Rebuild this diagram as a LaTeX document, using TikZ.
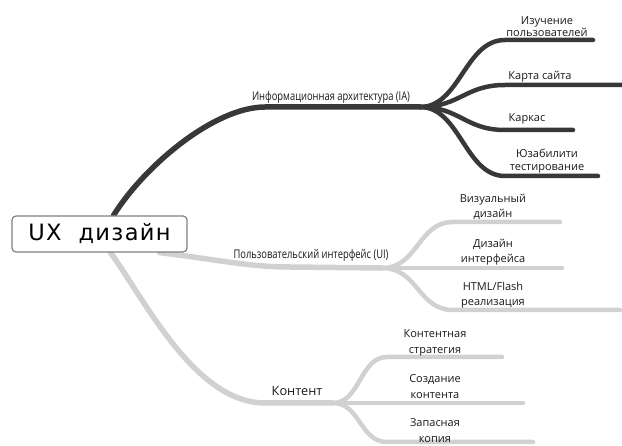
\documentclass[tikz,border=0pt]{standalone}
\usepackage{fontspec}
\setmainfont{Open Sans}
\newfontfamily\narrowfont[FakeStretch=0.78]{Open Sans}
\newfontfamily\rootfont[LetterSpace=6]{DejaVu Sans}
\usetikzlibrary{backgrounds}

\begin{document}
\begin{tikzpicture}[x=1pt,y=-1pt,
    branch/.style={line width=5.5pt,line cap=round},
    twig/.style={line width=4.5pt,line cap=round},
    leaf/.style={align=center,anchor=south,inner sep=1pt,text=black!90,
      font=\fontsize{11}{12.5}\selectfont},
    topic/.style={anchor=base,inner sep=1pt,text=black!90,
      font=\narrowfont\fontsize{12}{14}\selectfont}]
  \colorlet{dark}{black!78}
  \colorlet{light}{black!18}
  \useasboundingbox (0,0) rectangle (622,446);

  \node[draw=black!50,line width=1.2pt,rounded corners=4pt,fill=white,
    minimum width=175pt,minimum height=36pt,
    font=\rootfont\fontsize{22.5}{24}\selectfont] (root) at (99.5,234) {UX\ \ дизайн};

  % main topics
  \node[topic] (ia) at (331,101) {Информационная архитектура (IA)};
  \node[topic] (ui) at (311,259) {Пользовательский интерфейс (UI)};
  \node[topic,font=\fontsize{12.75}{14}\selectfont] (content) at (297,396) {Контент};

  \coordinate (iafork) at (420,107);
  \coordinate (uifork) at (382,268);
  \coordinate (contentfork) at (333,403);

  % leaves
  \node[leaf] (users) at (547,38) {Изучение\\пользователей};
  \node[leaf] (sitemap) at (540,83) {Карта сайта};
  \node[leaf] (frame) at (527,125) {Каркас};
  \node[leaf] (usability) at (547,174) {Юзабилити\\тестирование};
  \node[leaf,font=\fontsize{11}{15}\selectfont] (visual) at (493,221) {Визуальный\\дизайн};
  \node[leaf,font=\fontsize{11}{15}\selectfont] (interface) at (493,266) {Дизайн\\интерфейса};
  \node[leaf,font=\fontsize{11}{15}\selectfont] (html) at (493,309) {HTML/Flash\\реализация};
  \node[leaf,font=\fontsize{11}{16}\selectfont] (strategy) at (435,357) {Контентная\\стратегия};
  \node[leaf,font=\fontsize{11}{16}\selectfont] (creation) at (435,400) {Создание\\контента};
  \node[leaf,font=\fontsize{11}{16}\selectfont] (backup) at (435,444) {Запасная\\копия};

  \begin{scope}[on background layer]
    \draw[branch,dark] ([xshift=14pt]root.north) .. controls (145,165) and (215,107) .. (265,107) -- (iafork);
    \draw[branch,light] ([xshift=60pt]root.south) .. controls (220,260) and (250,267) .. (290,267) -- (uifork);
    \draw[branch,light] ([xshift=11pt]root.south) .. controls (145,300) and (195,403) .. (265,403) -- (contentfork);

    \foreach \y/\e [count=\i] in {40/593,85/630,130/573,176/598}
    {
      \coordinate (ia end \i) at (\e,\y);
      \draw[twig,dark] (iafork) .. controls (460,107) and (465,\y) .. (505,\y) -- (ia end \i);
    }
    \foreach \y/\e [count=\i] in {222/560,268/562,310/620}
    {
      \coordinate (ui end \i) at (\e,\y);
      \draw[twig,light] (uifork) .. controls (418,268) and (418,\y) .. (453,\y) -- (ui end \i);
    }
    \foreach \y/\e [count=\i] in {357/502,403/523,442/533}
    {
      \coordinate (content end \i) at (\e,\y);
      \draw[twig,light] (contentfork) .. controls (360,403) and (360,\y) .. (387,\y) -- (content end \i);
    }
  \end{scope}
\end{tikzpicture}
\end{document}
